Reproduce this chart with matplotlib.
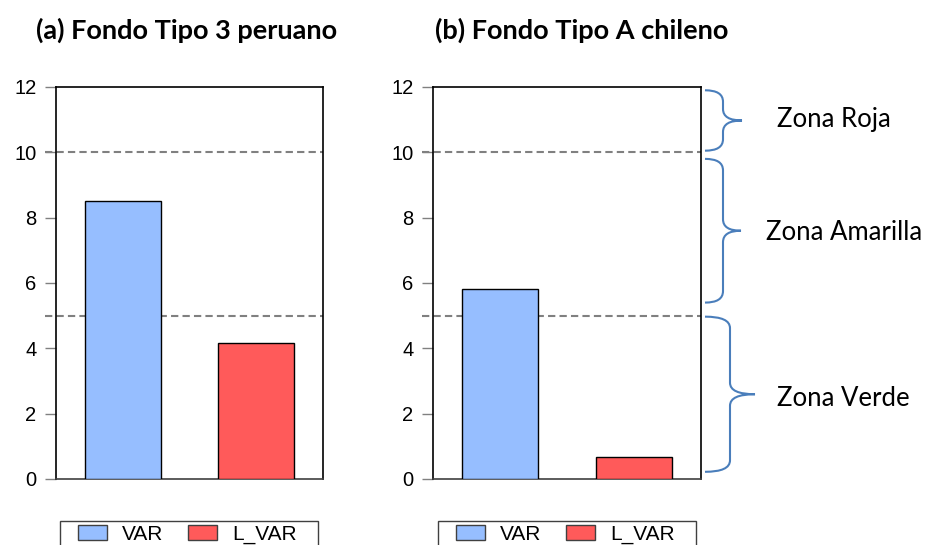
import matplotlib.pyplot as plt
from matplotlib.path import Path
from matplotlib.patches import PathPatch, Rectangle
import matplotlib.transforms as mtransforms

# Valores de VaR y VaR limite por fondo
series = ["VAR", "L_VAR"]
peru_vals = [8.5, 4.15]
chile_vals = [5.82, 0.66]
titles = ["(a) Fondo Tipo 3 peruano", "(b) Fondo Tipo A chileno"]
thresholds = [5, 10]
y_ticks = [0, 2, 4, 6, 8, 10, 12]
zones = ["Zona Roja", "Zona Amarilla", "Zona Verde"]

bar_colors = ["#96BEFF", "#FF5A5A"]
brace_color = "#4A7EBB"

W, H = 928, 545
fig = plt.figure(figsize=(W / 100, H / 100), dpi=100)


def px_box(x0, x1, top, bottom):
    # caja en pixeles (origen arriba a la izquierda) -> fracciones de figura
    return [x0 / W, (H - bottom) / H, (x1 - x0) / W, (bottom - top) / H]


ax1 = fig.add_axes(px_box(56, 323, 87, 479))
ax2 = fig.add_axes(px_box(433, 701, 87, 479))

panels = [(ax1, peru_vals, titles[0], 60, 36), (ax2, chile_vals, titles[1], 438, 435)]
for ax, vals, title, x0, tx in panels:
    bars = ax.bar(range(len(series)), vals, width=0.57, color=bar_colors,
                  edgecolor="black", linewidth=1, label=series, zorder=3)
    for t in thresholds:
        ax.axhline(t, xmin=-11 / 267, xmax=1, color="#808080", lw=1.5,
                   linestyle=(0, (3.5, 2)), clip_on=False, zorder=2)
    ax.set_xlim(-0.5, 1.5)
    ax.set_ylim(0, 12)
    ax.set_yticks(y_ticks)
    ax.set_xticks([])
    ax.tick_params(axis="y", direction="out", length=8, width=1, color="#808080",
                   pad=6, labelsize=14.5)
    for lab in ax.get_yticklabels():
        lab.set_family("Liberation Sans")
    for s in ["left", "top", "right"]:
        ax.spines[s].set_color("black")
        ax.spines[s].set_linewidth(1.2)
    ax.spines["bottom"].set_color("#404040")
    ax.spines["bottom"].set_linewidth(1.2)

    # titulo del panel
    fig.text(tx / W, (H - 30) / H, title, fontsize=19.5, fontweight="bold",
             family="Lato", va="center", ha="left")

    # caja de la leyenda (cortada por el borde inferior)
    fig.patches.append(Rectangle((x0 / W, -0.05), 258 / W, 0.05 + (H - 521) / H,
                                 transform=fig.transFigure, fill=False,
                                 edgecolor="#404040", lw=1))
    leg = ax.legend(bars, series, loc="upper left", ncol=2, frameon=False,
                    bbox_to_anchor=((x0 + 18) / W, (H - 524.5) / H),
                    bbox_transform=fig.transFigure, borderpad=0, borderaxespad=0,
                    handlelength=1.4, handleheight=0.7, handletextpad=0.7,
                    columnspacing=1.2, prop={"family": "Liberation Sans", "size": 15})
    for h in leg.legend_handles:
        h.set_edgecolor("#404040")


def brace(ax, ytop, ybot, xend, xline, xtip, r=0.35):
    # llave '}' en coordenadas: x fraccion del eje, y en datos
    trans = mtransforms.blended_transform_factory(ax.transAxes, ax.transData)
    ymid = (ytop + ybot) / 2
    verts = [(xend, ytop), (xline, ytop), (xline, ytop - r),
             (xline, ymid + r), (xline, ymid), (xtip, ymid),
             (xline, ymid), (xline, ymid - r),
             (xline, ybot + r), (xline, ybot), (xend, ybot)]
    codes = [Path.MOVETO, Path.CURVE3, Path.CURVE3,
             Path.LINETO, Path.CURVE3, Path.CURVE3,
             Path.CURVE3, Path.CURVE3,
             Path.LINETO, Path.CURVE3, Path.CURVE3]
    ax.add_patch(PathPatch(Path(verts, codes), transform=trans, fill=False,
                           edgecolor=brace_color, lw=1.5, clip_on=False))


def fx(px):
    return (px - 433) / 268


brace(ax2, 11.9, 10.05, fx(705), fx(723), fx(742))
brace(ax2, 9.8, 5.4, fx(705), fx(723), fx(741))
brace(ax2, 4.97, 0.22, fx(705), fx(730), fx(755))

zone_y = [120, 233, 398]
zone_x = [834, 844, 843]
for name, zx, zy in zip(zones, zone_x, zone_y):
    fig.text(zx / W, (H - zy) / H, name, fontsize=18.5, family="Lato",
             ha="center", va="center")

fig.savefig("out.png", dpi=100)
